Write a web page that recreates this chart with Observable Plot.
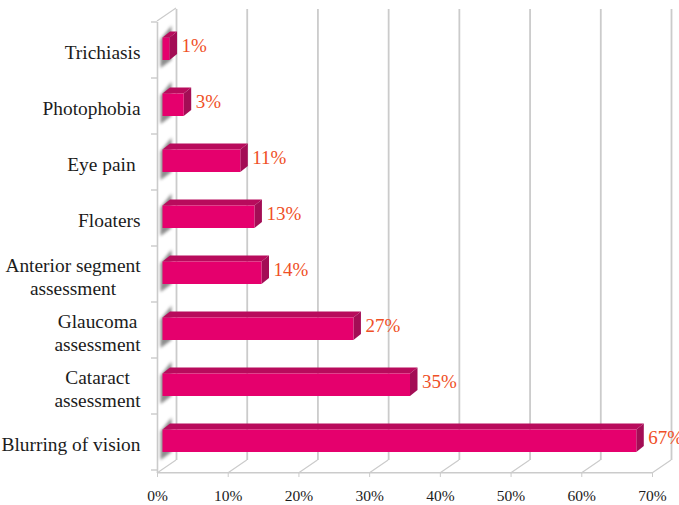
<!DOCTYPE html>
<html>
<head>
<meta charset="utf-8">
<script src="https://cdn.jsdelivr.net/npm/d3@7"></script>
<script src="https://cdn.jsdelivr.net/npm/@observablehq/plot@0.6"></script>
<style>
  html, body { margin: 0; padding: 0; background: #fff; overflow: hidden; }
  svg { display: block; }
</style>
</head>
<body>
<div id="chart"></div>
<script>
// Presenting complaints and reasons for referral, share of patients (%)
const complaints = ["Trichiasis", "Photophobia", "Eye pain", "Floaters", "Anterior segment", "Glaucoma", "Cataract", "Blurring of vision"];
const shares = [1, 3, 11, 13, 14, 27, 35, 67];
const rowLabels = ["Trichiasis", "Photophobia", "Eye pain\u00a0", "Floaters", "Anterior segment\nassessment", "Glaucoma\nassessment", "Cataract\nassessment", "Blurring of vision"];
const xTicks = [0, 10, 20, 30, 40, 50, 60, 70];

const rows = complaints.map((name, i) => ({name, value: shares[i], label: rowLabels[i]}));

const serif = "'Liberation Serif', 'Times New Roman', serif";
const wall = "#cbcbcb";

// Pseudo-3D geometry of the chart box, in pixels
const wallDx = 19, wallDy = -13;     // front plane to back wall
const barShift = 5.5;                // bars stand slightly in front of the left wall
const depthX = 7.5, depthY = -6;     // bar extrusion
const insetTop = 13.5, insetBottom = 20;

// A mark whose path is computed from the plot's own scales
function scaled(data, build, attrs = {}) {
  return Plot.dot(data, {
    x: () => 0,
    render(index, scales, channels, dimensions) {
      const g = d3.create("svg:g");
      for (const [k, v] of Object.entries(attrs)) g.style(k, v);
      for (const i of index) g.append("path").attr("d", build(data[i], scales, dimensions));
      return g.node();
    }
  });
}

const poly = pts => "M" + pts.map(p => p.join(",")).join("L") + "Z";

function barBox(d, {x, y}) {
  const top = y(d.name) + insetTop;
  const bottom = y(d.name) + y.bandwidth() - insetBottom;
  return {left: x(0) + barShift, right: x(d.value) + barShift, top, bottom};
}

const plot = Plot.plot({
  width: 679,
  height: 505,
  marginTop: 22,
  marginLeft: 157,
  marginRight: 27,
  marginBottom: 32,
  style: {fontFamily: serif, background: "#fff", overflow: "hidden"},
  x: {domain: [0, 70], range: [157, 652]},
  y: {domain: complaints, range: [22, 473], padding: 0, axis: null},
  marks: [
    // back wall gridlines
    Plot.ruleX(xTicks, {x: d => d, dx: wallDx, dy: wallDy, stroke: wall, strokeWidth: 1.8}),
    // floor edges running from the front plane to the back wall
    scaled(xTicks, (d, {x}, {height, marginBottom}) => {
      const b = height - marginBottom;
      return poly([[x(d), b], [x(d) + wallDx, b + wallDy]]);
    }, {stroke: wall, "stroke-width": 1.2, fill: "none"}),
    // left wall front edge and its top corner
    Plot.ruleX([0], {x: d => d, stroke: wall, strokeWidth: 1.6}),
    scaled([0], (d, {x}, {marginTop}) => poly([[x(d), marginTop - 1], [x(d) + wallDx, marginTop + wallDy - 1]]),
      {stroke: wall, "stroke-width": 1.2, fill: "none"}),
    // front baseline
    Plot.ruleY([0], {
      x1: 0, x2: 70, y: () => complaints[complaints.length - 1],
      dy: 28.2, stroke: wall, strokeWidth: 1.6
    }),
    // row ticks on the left edge
    scaled(complaints.concat("end"), (d, {x, y}, {marginTop}) => {
      const i = complaints.indexOf(d);
      const yy = marginTop + (i < 0 ? complaints.length : i) * y.step();
      return `M${x(0) - 6},${yy}L${x(0)},${yy}`;
    }, {stroke: wall, "stroke-width": 1.4, fill: "none"}),
    // soft shadow each bar casts on the left wall
    scaled(rows, (d, s) => {
      const {left, top, bottom} = barBox(d, s);
      return poly([[left - 2, top + 2], [left + 9, top - 12], [left + 9, bottom], [left - 2, bottom + 8]]);
    }, {fill: "#6f6f6f", opacity: 0.8, filter: "blur(1.6px)"}),
    // bar top faces
    scaled(rows, (d, s) => {
      const {left, right, top} = barBox(d, s);
      return poly([[left, top], [right, top], [right + depthX, top + depthY], [left + depthX, top + depthY]]);
    }, {fill: "#b80b5c"}),
    // bar side faces
    scaled(rows, (d, s) => {
      const {right, top, bottom} = barBox(d, s);
      return poly([[right, top], [right + depthX, top + depthY], [right + depthX, bottom + depthY], [right, bottom]]);
    }, {fill: "#a30d55"}),
    // bar front faces
    Plot.barX(rows, {x: "value", y: "name", dx: barShift, insetTop, insetBottom, fill: "#e5006d"}),
    // value labels
    Plot.text(rows, {
      x: "value", y: "name", text: d => d.value + "%", textAnchor: "start",
      dx: barShift + depthX + 4, dy: -7, fontSize: 19, fill: "#ef4f26"
    }),
    // row labels: single-line names sit flush against the axis
    Plot.text(rows.filter(d => !d.label.includes("\n")), {
      y: "name", text: "label", frameAnchor: "left", textAnchor: "end",
      dx: -17, dy: 0, fontSize: 19.4, fill: "#1c1c1c"
    }),
    // two-line names are centred on their widest line
    Plot.text(rows.filter(d => d.name === "Anterior segment"), {
      y: "name", text: "label", frameAnchor: "left", textAnchor: "middle",
      dx: -84.5, fontSize: 19.4, lineHeight: 1.19, fill: "#1c1c1c"
    }),
    Plot.text(rows.filter(d => d.label.includes("\n") && d.name !== "Anterior segment"), {
      y: "name", text: "label", frameAnchor: "left", textAnchor: "middle",
      dx: -60, fontSize: 19.4, lineHeight: 1.19, fill: "#1c1c1c"
    }),
    // percentage axis
    Plot.axisX(xTicks, {
      anchor: "bottom", label: null, tickSize: 4, tickPadding: 12, stroke: wall,
      tickFormat: d => d + "%", fontSize: 15.5, fill: "#1c1c1c"
    })
  ]
});

document.getElementById("chart").append(plot);
</script>
</body>
</html>
